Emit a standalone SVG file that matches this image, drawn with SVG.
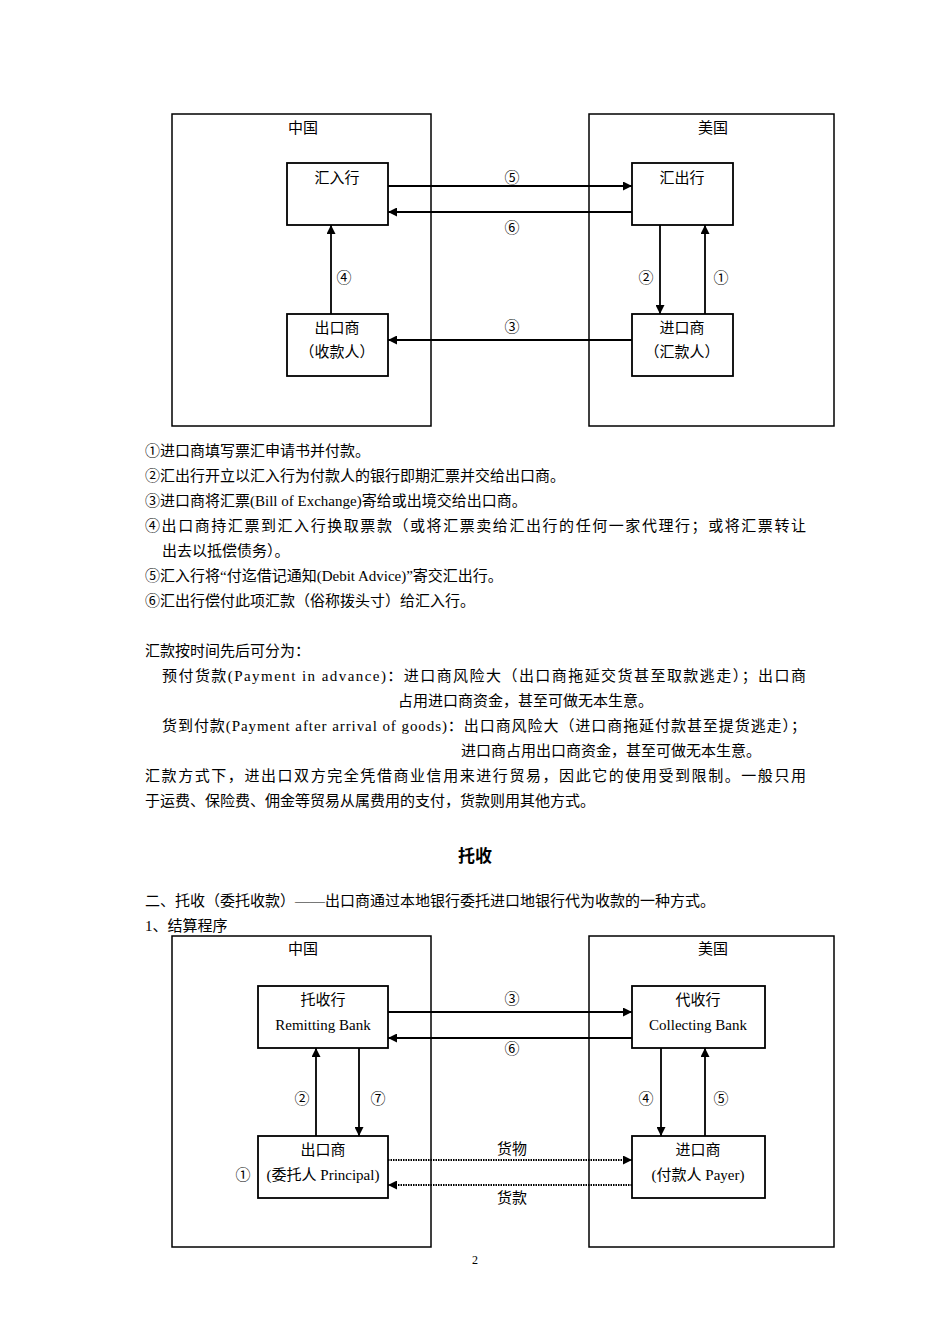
<svg xmlns="http://www.w3.org/2000/svg" width="950" height="1344" viewBox="0 0 950 1344">
<style>
text{font-family:"Liberation Serif","Noto Sans CJK SC",serif;font-size:15px;fill:#000}
.c{text-anchor:middle}
.o{fill:none;stroke:#000;stroke-width:1.5}
.n{fill:#fff;stroke:#000;stroke-width:1.8}
.a{stroke:#000;stroke-width:1.8;fill:none;marker-end:url(#ah)}
.d{stroke:#000;stroke-width:2;stroke-dasharray:1.5 1;fill:none;marker-end:url(#ah)}
</style>
<defs><marker id="ah" viewBox="0 0 10 10" refX="10" refY="5" markerWidth="9" markerHeight="9" markerUnits="userSpaceOnUse" orient="auto"><path d="M0,0L10,5L0,10z" fill="#000"/></marker></defs>
<rect width="950" height="1344" fill="#fff"/>
<g id="top">
<rect class="o" x="172" y="114" width="259" height="312"/>
<rect class="o" x="589" y="114" width="245" height="312"/>
<text class="c" x="303" y="133">中国</text><text class="c" x="713" y="133">美国</text>
<g id="t1"><rect class="n" x="287" y="163" width="101" height="62"/><text class="c" x="337" y="183">汇入行</text></g>
<g id="t2"><rect class="n" x="632" y="163" width="101" height="62"/><text class="c" x="682" y="183">汇出行</text></g>
<g id="t3"><rect class="n" x="287" y="314" width="101" height="62"/><text class="c" x="337" y="333">出口商</text><text class="c" x="337" y="357">（收款人）</text></g>
<g id="t4"><rect class="n" x="632" y="314" width="101" height="62"/><text class="c" x="682" y="333">进口商</text><text class="c" x="682" y="357">（汇款人）</text></g>
<g id="tc">
<line class="a" x1="388" y1="186" x2="632" y2="186"/>
<line class="a" x1="632" y1="212" x2="388" y2="212"/>
<line class="a" x1="331" y1="314" x2="331" y2="225"/>
<line class="a" x1="660" y1="225" x2="660" y2="314"/>
<line class="a" x1="705" y1="314" x2="705" y2="225"/>
<line class="a" x1="632" y1="340" x2="388" y2="340"/>
</g>
<text class="c" x="512" y="183">⑤</text><text class="c" x="512" y="233">⑥</text><text class="c" x="344" y="283">④</text><text class="c" x="646" y="283">②</text><text class="c" x="721" y="283">①</text><text class="c" x="512" y="332">③</text>
</g>
<g id="body">
<text x="145" y="456">①进口商填写票汇申请书并付款。</text>
<text x="145" y="481">②汇出行开立以汇入行为付款人的银行即期汇票并交给出口商。</text>
<text x="145" y="506">③进口商将汇票(Bill of Exchange)寄给或出境交给出口商。</text>
<text x="145" y="531" textLength="661" lengthAdjust="spacing">④出口商持汇票到汇入行换取票款（或将汇票卖给汇出行的任何一家代理行；或将汇票转让</text>
<text x="162" y="556">出去以抵偿债务）。</text>
<text x="145" y="581">⑤汇入行将“付迄借记通知(Debit Advice)”寄交汇出行。</text>
<text x="145" y="606">⑥汇出行偿付此项汇款（俗称拨头寸）给汇入行。</text>
<text x="145" y="656">汇款按时间先后可分为：</text>
<text x="162" y="681" textLength="644" lengthAdjust="spacing">预付货款(Payment in advance)：进口商风险大（出口商拖延交货甚至取款逃走）；出口商</text>
<text x="398" y="706">占用进口商资金，甚至可做无本生意。</text>
<text x="162" y="731" textLength="644" lengthAdjust="spacing">货到付款(Payment after arrival of goods)：出口商风险大（进口商拖延付款甚至提货逃走）；</text>
<text x="461" y="756">进口商占用出口商资金，甚至可做无本生意。</text>
<text x="145" y="781" textLength="661" lengthAdjust="spacing">汇款方式下，进出口双方完全凭借商业信用来进行贸易，因此它的使用受到限制。一般只用</text>
<text x="145" y="806">于运费、保险费、佣金等贸易从属费用的支付，货款则用其他方式。</text>
<text class="c" x="475" y="862" style="font-size:17px;font-weight:bold">托收</text>
<text x="145" y="906">二、托收（委托收款）——出口商通过本地银行委托进口地银行代为收款的一种方式。</text>
<text x="145" y="931">1、结算程序</text>
</g>
<g id="bottom">
<rect class="o" x="172" y="936" width="259" height="311"/>
<rect class="o" x="589" y="936" width="245" height="311"/>
<text class="c" x="303" y="954">中国</text><text class="c" x="713" y="954">美国</text>
<g id="b1"><rect class="n" x="258" y="986" width="130" height="62"/><text class="c" x="323" y="1005">托收行</text><text class="c" x="323" y="1030">Remitting Bank</text></g>
<g id="b2"><rect class="n" x="632" y="986" width="133" height="62"/><text class="c" x="698" y="1005">代收行</text><text class="c" x="698" y="1030">Collecting Bank</text></g>
<g id="b3"><rect class="n" x="258" y="1136" width="130" height="62"/><text class="c" x="323" y="1155">出口商</text><text class="c" x="323" y="1180">(委托人 Principal)</text></g>
<g id="b4"><rect class="n" x="632" y="1136" width="133" height="62"/><text class="c" x="698" y="1155">进口商</text><text class="c" x="698" y="1180">(付款人 Payer)</text></g>
<g id="bc">
<line class="a" x1="388" y1="1012" x2="632" y2="1012"/>
<line class="a" x1="632" y1="1038" x2="388" y2="1038"/>
<line class="a" x1="316" y1="1136" x2="316" y2="1048"/>
<line class="a" x1="359" y1="1048" x2="359" y2="1136"/>
<line class="a" x1="661" y1="1048" x2="661" y2="1136"/>
<line class="a" x1="705" y1="1136" x2="705" y2="1048"/>
<line class="d" x1="388" y1="1160" x2="632" y2="1160"/>
<line class="d" x1="632" y1="1185" x2="388" y2="1185"/>
</g>
<text class="c" x="512" y="1004">③</text><text class="c" x="512" y="1054">⑥</text><text class="c" x="302" y="1104">②</text><text class="c" x="378" y="1104">⑦</text><text class="c" x="646" y="1104">④</text><text class="c" x="721" y="1104">⑤</text>
<text class="c" x="512" y="1154">货物</text><text class="c" x="512" y="1203">货款</text><text class="c" x="243" y="1180">①</text>
</g>
<text class="c" x="475" y="1264" style="font-size:12px">2</text>
</svg>
